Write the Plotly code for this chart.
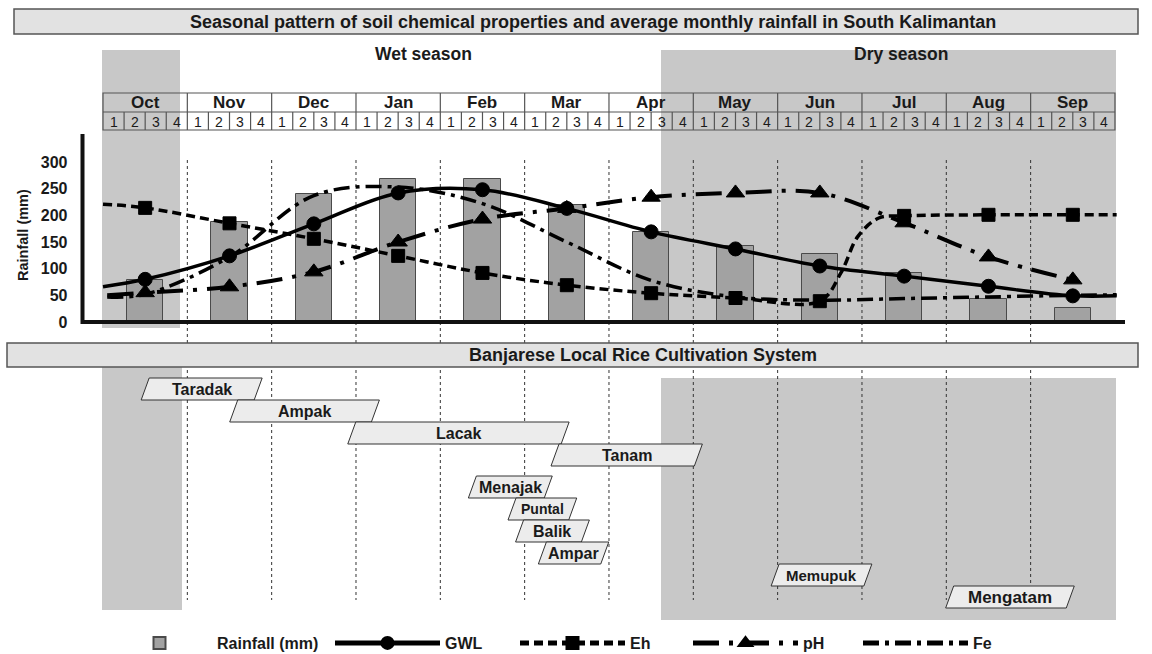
import plotly.graph_objects as go

W, H = 1152, 654
FONT = "Liberation Sans, Arial, Helvetica, sans-serif"

# ---------------- data ----------------
months = ["Oct", "Nov", "Dec", "Jan", "Feb", "Mar", "Apr", "May", "Jun", "Jul", "Aug", "Sep"]
week_labels = ["1", "2", "3", "4"]
rainfall = [78, 187, 240, 268, 268, 219, 169, 142, 127, 92, 43, 27]

gwl = [80, 124, 184, 242, 248, 213, 169, 137, 105, 86, 67, 49]
gwl_ends_x = [0.0, 12.02]
gwl_ends_y = [66, 49]

eh = [214, 185, 156, 124, 92, 69, 54, 45, 39, 199, 201, 201]
eh_extra_x = [0.0, 8.75, 8.95, 9.2, 12.02]
eh_extra_y = [221, 92, 160, 195, 201]

ph = [55, 66, 94, 150, 193, 213, 234, 242, 242, 186, 122, 79]
ph_extra_x = [0.05]
ph_extra_y = [50]

fe = [52, 122, 237, 253, 222, 150, 78, 47, 41, 44, 47, 50]
fe_extra_x = [0.05, 12.02]
fe_extra_y = [47, 51]

activities = ["Taradak", "Ampak", "Lacak", "Tanam", "Menajak", "Puntal", "Balik", "Ampar", "Memupuk", "Mengatam"]
act_start = [0.50, 1.55, 2.95, 5.36, 4.38, 4.85, 4.94, 5.21, 7.97, 10.04]
act_end = [1.84, 3.23, 5.48, 7.06, 5.28, 5.57, 5.72, 5.95, 9.07, 11.47]

ytick_vals = [0, 50, 100, 150, 200, 250, 300]

# ---------------- layout helpers (pixel layout -> axis units) ----------------
X0_PX, MONTH_PX = 103.0, 84.33
Y0_PX, UNIT_PX = 322.0, 160.0 / 300.0


def mx(px):
    return (px - X0_PX) / MONTH_PX


def vy(py):
    return (Y0_PX - py) / UNIT_PX


xm = [i + 0.5 for i in range(len(months))]

fig = go.Figure()

fig.add_trace(go.Bar(
    x=xm, y=rainfall, width=0.43, name="Rainfall (mm)", legendwidth=108,
    marker=dict(color="#a2a2a2", line=dict(color="#4a4a4a", width=1)),
))


def build(vals, ex, ey, msize):
    pts = [(x, v, msize) for x, v in zip(xm, vals)] + [(x, v, 0) for x, v in zip(ex, ey)]
    pts.sort(key=lambda p: p[0])
    return [p[0] for p in pts], [p[1] for p in pts], [p[2] for p in pts]


series = [
    ("GWL", gwl, gwl_ends_x, gwl_ends_y, "circle", 14, "solid", 3.5, 65),
    ("Eh", eh, eh_extra_x, eh_extra_y, "square", 13, "9px,5px", 3.5, 53),
    ("pH", ph, ph_extra_x, ph_extra_y, "triangle-up", 16, "26px,10px,4px,10px", 4, 50),
    ("Fe", fe, fe_extra_x, fe_extra_y, None, 0, "16px,6px,4px,6px", 3.5, 30),
]
for name, vals, ex, ey, sym, ms, dash, lw, lgw in series:
    x, y, sizes = build(vals, ex, ey, ms)
    line = dict(color="#000000", width=lw, dash=dash, shape="spline", smoothing=1.0)
    if sym is None:
        fig.add_trace(go.Scatter(x=x, y=y, mode="lines", name=name, line=line, legendwidth=lgw))
    else:
        fig.add_trace(go.Scatter(x=x, y=y, mode="lines+markers", name=name, line=line, legendwidth=lgw,
                                 marker=dict(symbol=sym, size=sizes, color="#000000", opacity=1,
                                             line=dict(width=1, color="#000000"))))

shapes = []
GRAY = "#c8c8c8"
# season shading
wet_gray = (mx(102), mx(180))
dry_gray = (mx(661), mx(1116))
shapes.append(dict(type="rect", x0=wet_gray[0], x1=wet_gray[1], y0=vy(328), y1=vy(50), fillcolor=GRAY, line=dict(width=0), layer="below"))
shapes.append(dict(type="rect", x0=dry_gray[0], x1=dry_gray[1], y0=vy(322), y1=vy(50), fillcolor=GRAY, line=dict(width=0), layer="below"))
shapes.append(dict(type="rect", x0=wet_gray[0], x1=mx(182), y0=vy(610), y1=vy(367), fillcolor=GRAY, line=dict(width=0), layer="below"))
shapes.append(dict(type="rect", x0=dry_gray[0], x1=dry_gray[1], y0=vy(620), y1=vy(378), fillcolor=GRAY, line=dict(width=0), layer="below"))

# dotted month boundaries
for m in range(1, len(months)):
    shapes.append(dict(type="line", x0=m, x1=m, y0=vy(160), y1=vy(600),
                       line=dict(color="#333333", width=1, dash="dot"), layer="below"))

# header table
TL = dict(color="#555555", width=1.2)
shapes.append(dict(type="rect", x0=0, x1=len(months), y0=vy(130), y1=vy(93), line=TL, layer="below"))
shapes.append(dict(type="line", x0=0, x1=len(months), y0=vy(112), y1=vy(112), line=TL, layer="below"))
for i in range(len(months)):
    for w in range(4):
        xb = i + w / 4.0
        if xb == 0:
            continue
        if w == 0:
            shapes.append(dict(type="line", x0=xb, x1=xb, y0=vy(130), y1=vy(93), line=TL, layer="below"))
        else:
            shapes.append(dict(type="line", x0=xb, x1=xb, y0=vy(130), y1=vy(112), line=TL, layer="below"))

# title box and cultivation box
shapes.append(dict(type="rect", x0=mx(14), x1=mx(1138), y0=vy(34), y1=vy(9), fillcolor="#e2e2e2",
                   line=dict(color="#555555", width=1.5), layer="below"))
shapes.append(dict(type="rect", x0=mx(7), x1=mx(1138), y0=vy(367), y1=vy(343), fillcolor="#e2e2e2",
                   line=dict(color="#555555", width=1.5), layer="below"))

# activity parallelograms
SL = 4.0 / MONTH_PX
ROW_H = 22
act_sizes = [16, 16, 16, 16, 16, 14, 16, 16, 15, 17]
annotations = []
for k, (nm, s, e) in enumerate(zip(activities, act_start, act_end)):
    top = 378 + ROW_H * k + (10 if k >= 4 else 0)
    yt, yb = vy(top), vy(top + ROW_H)
    path = f"M{s - SL},{yb} L{s + SL},{yt} L{e + SL},{yt} L{e - SL},{yb} Z"
    shapes.append(dict(type="path", path=path, fillcolor="#ececec",
                       line=dict(color="#333333", width=1), layer="below"))
    annotations.append(dict(x=(s + e) / 2, y=vy(top + ROW_H / 2), text=nm, showarrow=False,
                            font=dict(family=FONT, size=act_sizes[k], color="#1a1a1a", weight="bold")))

# axis lines
shapes.append(dict(type="line", x0=mx(82), x1=mx(1125), y0=0, y1=0, line=dict(color="#111111", width=4), layer="above"))
shapes.append(dict(type="line", x0=mx(82.5), x1=mx(82.5), y0=vy(324), y1=vy(134), line=dict(color="#111111", width=4), layer="above"))

# texts
annotations.append(dict(x=mx(593), y=vy(21.5), text="Seasonal pattern of soil chemical properties and average monthly rainfall in South Kalimantan",
                        showarrow=False, font=dict(family=FONT, size=18, color="#1a1a1a", weight="bold")))
annotations.append(dict(x=mx(643), y=vy(355), text="Banjarese Local Rice Cultivation System",
                        showarrow=False, font=dict(family=FONT, size=18, color="#1a1a1a", weight="bold")))
annotations.append(dict(x=mx(423), y=vy(54), text="Wet season", showarrow=False,
                        font=dict(family=FONT, size=17.5, color="#1a1a1a", weight="bold")))
annotations.append(dict(x=mx(901), y=vy(54), text="Dry season", showarrow=False,
                        font=dict(family=FONT, size=17.5, color="#1a1a1a", weight="bold")))
annotations.append(dict(x=mx(23), y=vy(235), text="Rainfall (mm)", textangle=-90, showarrow=False,
                        font=dict(family=FONT, size=14.5, color="#1a1a1a", weight="bold")))
for i, mname in enumerate(months):
    annotations.append(dict(x=i + 0.5, y=vy(102.5), text=mname, showarrow=False,
                            font=dict(family=FONT, size=17, color="#1a1a1a", weight="bold")))
    for w, wl in enumerate(week_labels):
        annotations.append(dict(x=i + (w + 0.5) / 4.0, y=vy(121.5), text=wl, showarrow=False,
                                font=dict(family=FONT, size=14, color="#1a1a1a")))

fig.update_layout(
    width=W, height=H, autosize=False,
    margin=dict(l=0, r=0, t=0, b=0, autoexpand=False),
    paper_bgcolor="white", plot_bgcolor="white",
    showlegend=True,
    legend=dict(orientation="h", x=102 / W, xanchor="left", y=1 - 643 / H, yanchor="middle",
                itemwidth=105, itemsizing="constant", bgcolor="rgba(0,0,0,0)",
                font=dict(family=FONT, size=16, color="#1a1a1a", weight="bold"),
                tracegroupgap=0),
    xaxis=dict(domain=[0, 1], range=[mx(0), mx(W)], visible=False, fixedrange=True),
    yaxis=dict(domain=[0, 1], range=[vy(H), vy(0)], anchor="free", position=82.5 / W,
               tickvals=ytick_vals, ticktext=[str(v) for v in ytick_vals],
               showgrid=False, zeroline=False, showline=False, ticks="",
               ticklabelstandoff=15,
               tickfont=dict(family=FONT, size=16, color="#1a1a1a", weight="bold"), fixedrange=True),
    shapes=shapes,
    annotations=annotations,
    bargap=0,
)

fig.write_html("out.html", config={"displayModeBar": False},
               post_script="document.body.style.margin='0';document.body.style.overflow='hidden';")
